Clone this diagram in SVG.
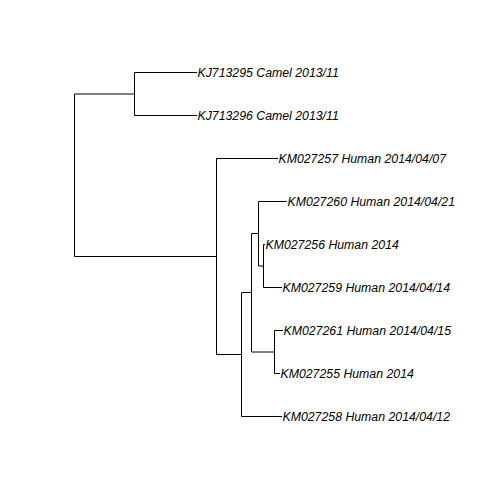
<svg xmlns="http://www.w3.org/2000/svg" width="504" height="504" viewBox="0 0 504 504">
<style>
.e{fill:none;stroke:#000;stroke-width:1}
.t{font-family:"Liberation Sans",Arial,sans-serif;font-size:12.3px;font-style:italic;fill:#000}
</style>
<rect width="504" height="504" fill="#fff"/>
<g id="connectors" class="e">
<path d="M74.5,94 V256.5"/>
<path d="M74.5,94 H134.5 M134.5,72.5 V115.5 M134.5,72.5 H197 M134.5,115.5 H197"/>
<path d="M74.5,256.5 H216.5 M216.5,158.5 V354.5 M216.5,158.5 H278 M216.5,354.5 H241.5"/>
<path d="M241.5,292.5 V416.5 M241.5,416.5 H282 M241.5,292.5 H251.5"/>
<path d="M251.5,233.5 V352 M251.5,233.5 H258.5 M251.5,352 H274.5"/>
<path d="M258.5,201.5 V266 M258.5,201.5 H287 M258.5,266 H263.5"/>
<path d="M263.5,244.5 V287.5 M263.5,244.5 H265 M263.5,287.5 H282"/>
<path d="M274.5,330.5 V373.5 M274.5,330.5 H283 M274.5,373.5 H280"/>
</g>
<g id="KJ713295"><text class="t" x="197.5" y="76.9">KJ713295 Camel 2013/11</text></g>
<g id="KJ713296"><text class="t" x="197.5" y="119.9">KJ713296 Camel 2013/11</text></g>
<g id="KM027257"><text class="t" x="278.5" y="162.9">KM027257 Human 2014/04/07</text></g>
<g id="KM027260"><text class="t" x="287.5" y="205.9">KM027260 Human 2014/04/21</text></g>
<g id="KM027256"><text class="t" x="265.5" y="248.9">KM027256 Human 2014</text></g>
<g id="KM027259"><text class="t" x="282.5" y="291.9">KM027259 Human 2014/04/14</text></g>
<g id="KM027261"><text class="t" x="283.5" y="334.9">KM027261 Human 2014/04/15</text></g>
<g id="KM027255"><text class="t" x="280.5" y="377.9">KM027255 Human 2014</text></g>
<g id="KM027258"><text class="t" x="282.5" y="420.9">KM027258 Human 2014/04/12</text></g>
</svg>
